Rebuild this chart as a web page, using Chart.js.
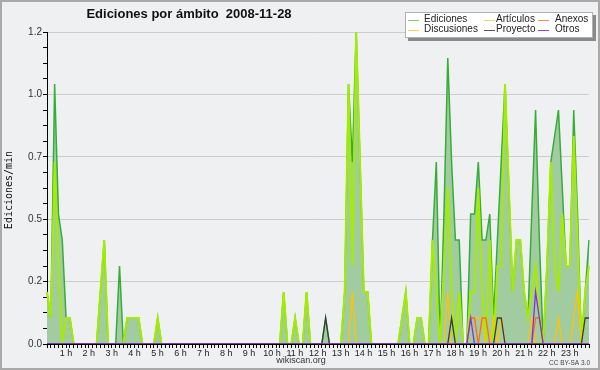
<!DOCTYPE html>
<html>
<head>
<meta charset="utf-8">
<script src="https://cdn.jsdelivr.net/npm/chart.js@4/dist/chart.umd.min.js"></script>
<style>
html,body{margin:0;padding:0;background:#eff0f2;}
#wrap{width:600px;height:370px;position:relative;}
</style>
</head>
<body>
<div id="wrap"><canvas id="c" width="600" height="370"></canvas></div>
<script>
// ---- DATA (10-minute bins, 00:00 .. 23:40) ----
const titleText = "Ediciones por ámbito  2008-11-28";
const yAxisTitle = "Ediciones/min";
const hourTicks = ["1 h","2 h","3 h","4 h","5 h","6 h","7 h","8 h","9 h","10 h","11 h","12 h",
                   "13 h","14 h","15 h","16 h","17 h","18 h","19 h","20 h","21 h","22 h","23 h"];
const yTickValues = [0, 0.24, 0.48, 0.72, 0.96, 1.2];
const seriesNames = ["Ediciones","Artículos","Anexos","Discusiones","Proyecto","Otros"];

const ediciones = [
  0.2,0.1,1.0,0.5,0.4,0.1,0.1,0,0,0,0,0,
  0,0,0.2,0.4,0,0,0,0.3,0,0.1,0.1,0.1,
  0.1,0,0,0,0,0.1,0,0,0,0,0,0,
  0,0,0,0,0,0,0,0,0,0,0,0,
  0,0,0,0,0,0,0,0,0,0,0,0,
  0,0,0.2,0,0,0.1,0,0,0.2,0,0,0,
  0,0.1,0,0,0,0,0.2,1.0,0.7,1.2,0.7,0.2,
  0.2,0,0,0,0,0,0,0,0,0.1,0.2,0,
  0,0.1,0.1,0,0,0.4,0.7,0,0.5,1.1,0.7,0.4,
  0.4,0,0,0.5,0.5,0.7,0.4,0.4,0.5,0.1,0.4,0.7,
  1.0,0.6,0.2,0.4,0.4,0.2,0.1,0.5,0.9,0.4,0,0.3,
  0.7,0.8,0.9,0.6,0.3,0.3,0.9,0.5,0,0.2,0.4
];
const articulos = [
  0.2,0.1,0.7,0.3,0,0.1,0.1,0,0,0,0,0,
  0,0,0.2,0.4,0,0,0,0,0,0.1,0.1,0.1,
  0.1,0,0,0,0,0.1,0,0,0,0,0,0,
  0,0,0,0,0,0,0,0,0,0,0,0,
  0,0,0,0,0,0,0,0,0,0,0,0,
  0,0,0.2,0,0,0.1,0,0,0.2,0,0,0,
  0,0,0,0,0,0,0.2,1.0,0.3,1.2,0.7,0.2,
  0.2,0,0,0,0,0,0,0,0,0.1,0.2,0,
  0,0.1,0.1,0,0,0.4,0.2,0,0.3,0.6,0.2,0,
  0.2,0,0,0.2,0.2,0.6,0.2,0,0.4,0,0.3,0.3,
  1.0,0.6,0.2,0.4,0.4,0.2,0.1,0.2,0.3,0.1,0,0.3,
  0.7,0.3,0.2,0.5,0.3,0.3,0.8,0.4,0,0.2,0.3
];
const anexos = [
  0,0,0,0,0,0,0,0,0,0,0,0,
  0,0,0,0,0,0,0,0,0,0,0,0,
  0,0,0,0,0,0,0,0,0,0,0,0,
  0,0,0,0,0,0,0,0,0,0,0,0,
  0,0,0,0,0,0,0,0,0,0,0,0,
  0,0,0,0,0,0,0,0,0,0,0,0,
  0,0,0,0,0,0,0,0,0,0,0,0,
  0,0,0,0,0,0,0,0,0,0,0,0,
  0,0,0,0,0,0,0,0,0,0,0,0,
  0,0,0,0.1,0.1,0,0.1,0.1,0,0,0,0,
  0,0,0,0,0,0,0,0,0.1,0.1,0,0,
  0,0,0,0,0,0,0,0,0,0,0
];
const discusiones = [
  0,0,0,0,0,0,0,0,0,0,0,0,
  0,0,0,0,0,0,0,0,0,0,0,0,
  0,0,0,0,0,0,0,0,0,0,0,0,
  0,0,0,0,0,0,0,0,0,0,0,0,
  0,0,0,0,0,0,0,0,0,0,0,0,
  0,0,0,0,0,0,0,0,0,0,0,0,
  0,0,0,0,0,0,0,0,0.2,0,0,0,
  0,0,0,0,0,0,0,0,0,0,0,0,
  0,0,0,0,0,0,0,0,0,0.2,0,0,
  0,0,0,0.1,0.1,0.1,0.1,0,0,0.1,0,0.1,
  0,0,0,0,0,0,0,0.1,0,0,0,0,
  0,0,0.1,0,0,0,0.1,0.2,0,0,0
];
const proyecto = [
  0,0,0,0,0,0,0,0,0,0,0,0,
  0,0,0,0,0,0,0,0,0,0,0,0,
  0,0,0,0,0,0,0,0,0,0,0,0,
  0,0,0,0,0,0,0,0,0,0,0,0,
  0,0,0,0,0,0,0,0,0,0,0,0,
  0,0,0,0,0,0,0,0,0,0,0,0,
  0,0.1,0,0,0,0,0,0,0,0,0,0,
  0,0,0,0,0,0,0,0,0,0,0,0,
  0,0,0,0,0,0,0,0,0,0,0.1,0,
  0,0,0,0,0,0,0,0,0,0,0.1,0.1,
  0,0,0,0,0,0,0,0,0,0,0,0,
  0,0,0,0,0,0,0,0,0,0.1,0.1
];
const otros = [
  0,0,0,0,0,0,0,0,0,0,0,0,
  0,0,0,0,0,0,0,0,0,0,0,0,
  0,0,0,0,0,0,0,0,0,0,0,0,
  0,0,0,0,0,0,0,0,0,0,0,0,
  0,0,0,0,0,0,0,0,0,0,0,0,
  0,0,0,0,0,0,0,0,0,0,0,0,
  0,0,0,0,0,0,0,0,0,0,0,0,
  0,0,0,0,0,0,0,0,0,0,0,0,
  0,0,0,0,0,0,0,0,0,0,0,0,
  0,0,0,0.1,0,0,0,0,0,0,0,0,
  0,0,0,0,0,0,0,0,0.2,0.1,0,0,
  0,0,0,0,0,0,0,0,0,0,0
];

const categories = [];
for (let h = 0; h < 24; h++) for (let m = 0; m < 60; m += 10)
  if (categories.length < ediciones.length)
    categories.push(String(h).padStart(2,"0") + ":" + String(m).padStart(2,"0"));

// ---- STYLE ----
const colors = {
  Ediciones: "#36ad36", Artículos: "#a4ec00", Anexos: "#ff6a26",
  Discusiones: "#ffc400", Proyecto: "#3a3a3a", Otros: "#8a2be8"
};
const legendColors = {
  Ediciones: "#7fcc7f", Artículos: "#c8f060", Anexos: "#ff8a5a",
  Discusiones: "#ffd24a", Proyecto: "#555555", Otros: "#9040f0"
};
const FONT = "'Liberation Sans', Arial, sans-serif";
Chart.defaults.font.family = FONT;

const isMajor = v => yTickValues.some(t => Math.abs(t - v) < 1e-6);

const decor = {
  id: "decor",
  beforeDraw(chart) {
    const c = chart.ctx;
    c.save();
    c.fillStyle = "#eff0f2";
    c.fillRect(0, 0, chart.width, chart.height);
    c.restore();
  },
  afterDraw(chart) {
    const c = chart.ctx;
    c.save();
    c.strokeStyle = "#a9a9a9";
    c.lineWidth = 2;
    c.strokeRect(1, 1, chart.width - 2, chart.height - 2);
    c.fillStyle = "#111";
    c.font = "bold 13px " + FONT;
    c.textAlign = "center";
    c.textBaseline = "middle";
    c.fillText(titleText, 189, 14);
    c.save();
    c.translate(9, 190);
    c.rotate(-Math.PI / 2);
    c.font = "10px 'DejaVu Sans Mono', monospace";
    c.fillStyle = "#111";
    c.fillText(yAxisTitle, 0, 0);
    c.restore();
    c.font = "9px " + FONT;
    c.fillStyle = "#333";
    c.fillText("wikiscan.org", 301, 361);
    c.font = "6.5px " + FONT;
    c.fillStyle = "#444";
    c.textAlign = "right";
    c.fillText("CC BY-SA 3.0", 590, 363);
    const bx = 405, by = 12, bw = 188, bh = 26;
    c.fillStyle = "#8a8a8a";
    c.fillRect(bx + 3, by + 3, bw, bh);
    c.fillStyle = "#ffffff";
    c.fillRect(bx, by, bw, bh);
    c.strokeStyle = "#b0b0b0";
    c.lineWidth = 1;
    c.strokeRect(bx + 0.5, by + 0.5, bw - 1, bh - 1);
    const cols = [[408, 424], [484, 496], [538, 555]];
    const rows = [19.5, 29.5];
    const order = [["Ediciones","Artículos","Anexos"],["Discusiones","Proyecto","Otros"]];
    c.font = "10px " + FONT;
    c.textAlign = "left";
    c.textBaseline = "middle";
    order.forEach((row, r) => row.forEach((name, k) => {
      const y = rows[r];
      c.strokeStyle = legendColors[name];
      c.lineWidth = 1;
      c.beginPath();
      c.moveTo(cols[k][0], Math.round(y) + 0.5);
      c.lineTo(cols[k][0] + 11, Math.round(y) + 0.5);
      c.stroke();
      c.fillStyle = "#222";
      c.fillText(name, cols[k][1], y);
    }));
    c.restore();
  }
};

const mk = (label, data, color, width, order, extra) => Object.assign({
  label, data, borderColor: color, borderWidth: width, pointRadius: 0,
  tension: 0, fill: false, order
}, extra || {});

new Chart(document.getElementById("c"), {
  type: "line",
  data: {
    labels: categories,
    datasets: [
      mk("Ediciones", ediciones, colors.Ediciones, 1.5, 10,
         { fill: "origin", backgroundColor: "#a0cca0" }),
      mk("Artículos", articulos, colors["Artículos"], 2, 9),
      mk("Anexos", anexos, colors.Anexos, 1.3, 7),
      mk("Discusiones", discusiones, colors.Discusiones, 1.3, 8),
      mk("Proyecto", proyecto, colors.Proyecto, 1.3, 6),
      mk("Otros", otros, colors.Otros, 1.3, 5)
    ]
  },
  options: {
    responsive: false,
    animation: false,
    events: [],
    layout: { padding: { top: 32, right: 11, left: 0, bottom: 0 } },
    plugins: { legend: { display: false }, title: { display: false }, tooltip: { enabled: false } },
    scales: {
      x: {
        type: "category",
        offset: false,
        afterFit(s) { s.height = 26; },
        border: { color: "#000", width: 1 },
        grid: { drawOnChartArea: false, drawTicks: true, tickLength: 4, tickColor: "#000", lineWidth: 1 },
        ticks: {
          autoSkip: false, maxRotation: 0, minRotation: 0, padding: 0, labelOffset: -4,
          color: "#222", font: { size: 9, family: FONT },
          callback: (v, i) => (i > 0 && i % 6 === 0) ? hourTicks[i / 6 - 1] : ""
        }
      },
      y: {
        min: 0, max: 1.2,
        afterFit(s) { s.width = 47; },
        afterBuildTicks(s) {
          const t = [];
          for (let k = 0; k <= 20; k++) t.push({ value: +(k * 0.06).toFixed(4) });
          s.ticks = t;
        },
        border: { color: "#000", width: 1 },
        grid: {
          drawTicks: true, tickLength: 4,
          color: ctx => (ctx.tick && isMajor(ctx.tick.value) && ctx.tick.value > 0) ? "#cccccc" : "rgba(0,0,0,0)",
          tickColor: "#000", lineWidth: 1
        },
        ticks: {
          padding: 1, color: "#333", font: { size: 10, family: FONT },
          callback: v => isMajor(v) ? v.toFixed(1) : ""
        }
      }
    }
  },
  plugins: [decor]
});
</script>
</body>
</html>
